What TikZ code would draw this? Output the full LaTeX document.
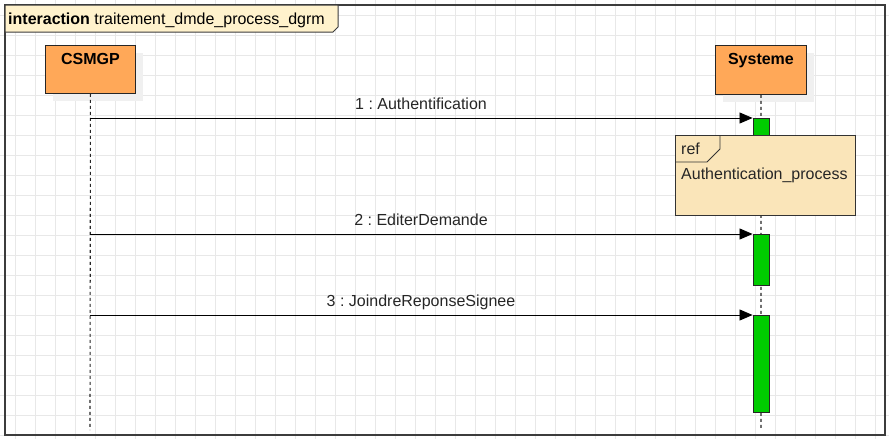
\documentclass[tikz,border=0pt]{standalone}
\usepackage{fontspec}
\setmainfont{Liberation Sans}
\usetikzlibrary{arrows.meta}
\frenchspacing
\definecolor{actorfill}{RGB}{255,168,88}
\definecolor{actgreen}{RGB}{0,204,0}
\definecolor{reffill}{RGB}{250,229,185}
\definecolor{tabfill}{RGB}{255,242,204}
\definecolor{frameline}{RGB}{60,60,60}
\definecolor{gridline}{RGB}{232,232,232}
\begin{document}
\begin{tikzpicture}[x=1pt,y=-1pt,
  every node/.style={font=\fontsize{16}{18}\selectfont},
  actorbox/.style={draw=black!85,fill=actorfill,line width=0.9pt,minimum width=90pt,minimum height=48pt,inner sep=0pt},
  actbar/.style={draw=black!85,fill=actgreen,line width=0.9pt,minimum width=16pt,inner sep=0pt},
  lifeline/.style={dashed,dash pattern=on 3pt off 3pt,line width=1.1pt,black!85},
  msg/.style={line width=0.8pt,black,-{Triangle[length=13pt,width=11pt]}},
  msglabel/.style={anchor=base,text=black!85},
  reftext/.style={anchor=base west,inner sep=0pt,text=black!85}]
\useasboundingbox (0,0) rectangle (889,439);
\fill[white] (0,0) rectangle (889,439);
% grid
\foreach \gx in {15,35,...,875} \draw[gridline,line width=0.6pt] (\gx,0) -- (\gx,439);
\foreach \gy in {15,35,...,435} \draw[gridline,line width=0.6pt] (0,\gy) -- (889,\gy);
% frame
\draw[frameline,line width=1.4pt] (5,5) rectangle (885,435);
\draw[frameline,fill=tabfill,line width=1pt] (5,5) -- (338,5) -- (338,27) -- (333,32) -- (5,32) -- cycle;
\node[anchor=base west,inner sep=0pt] (title) at (8,24) {\textbf{interaction} traitement\_dmde\_process\_dgrm};
% shadows
\fill[black!6] (53,53) rectangle (143,101);
\fill[black!6] (723,53) rectangle (814,102);
% actors
\node[actorbox,anchor=north west,label={[anchor=north,yshift=-5pt,font=\fontsize{16}{18}\selectfont\bfseries]north:CSMGP}] (csmgp) at (45,45) {};
\node[actorbox,anchor=north west,minimum width=91pt,minimum height=49pt,label={[anchor=north,yshift=-5pt,font=\fontsize{16}{18}\selectfont\bfseries]north:Systeme}] (sys) at (715,45) {};
% lifelines
\coordinate (csmgpend) at (90,430);
\coordinate (sysend) at (761,430);
\draw[lifeline] (csmgp.south) -- (csmgpend);
\draw[lifeline] (sys.south) -- (sysend);
% activations
\node[actbar,anchor=north,minimum height=17pt] (act1) at (761,118) {};
\node[actbar,anchor=north,minimum height=51pt] (act2) at (761,234) {};
\node[actbar,anchor=north,minimum height=97pt] (act3) at (761,315) {};
% ref frame
\draw[black!80,fill=reffill,line width=0.9pt] (675,135) rectangle (855,215);
\draw[black!80,line width=0.9pt] (675,162) -- (707,162) -- (720,149) -- (720,135);
\node[reftext] (refl) at (681,154) {ref};
\node[reftext] (refname) at (681,179) {Authentication\_process};
% messages
\coordinate (m1) at (90,118);
\coordinate (m2) at (90,234);
\coordinate (m3) at (90,315);
\draw[msg] (m1) -- (act1.north west);
\draw[msg] (m2) -- (act2.north west);
\draw[msg] (m3) -- (act3.north west);
\node[msglabel] (l1) at (421,109) {1 : Authentification};
\node[msglabel] (l2) at (421,225) {2 : EditerDemande};
\node[msglabel] (l3) at (421,306) {3 : JoindreReponseSignee};
\end{tikzpicture}
\end{document}
